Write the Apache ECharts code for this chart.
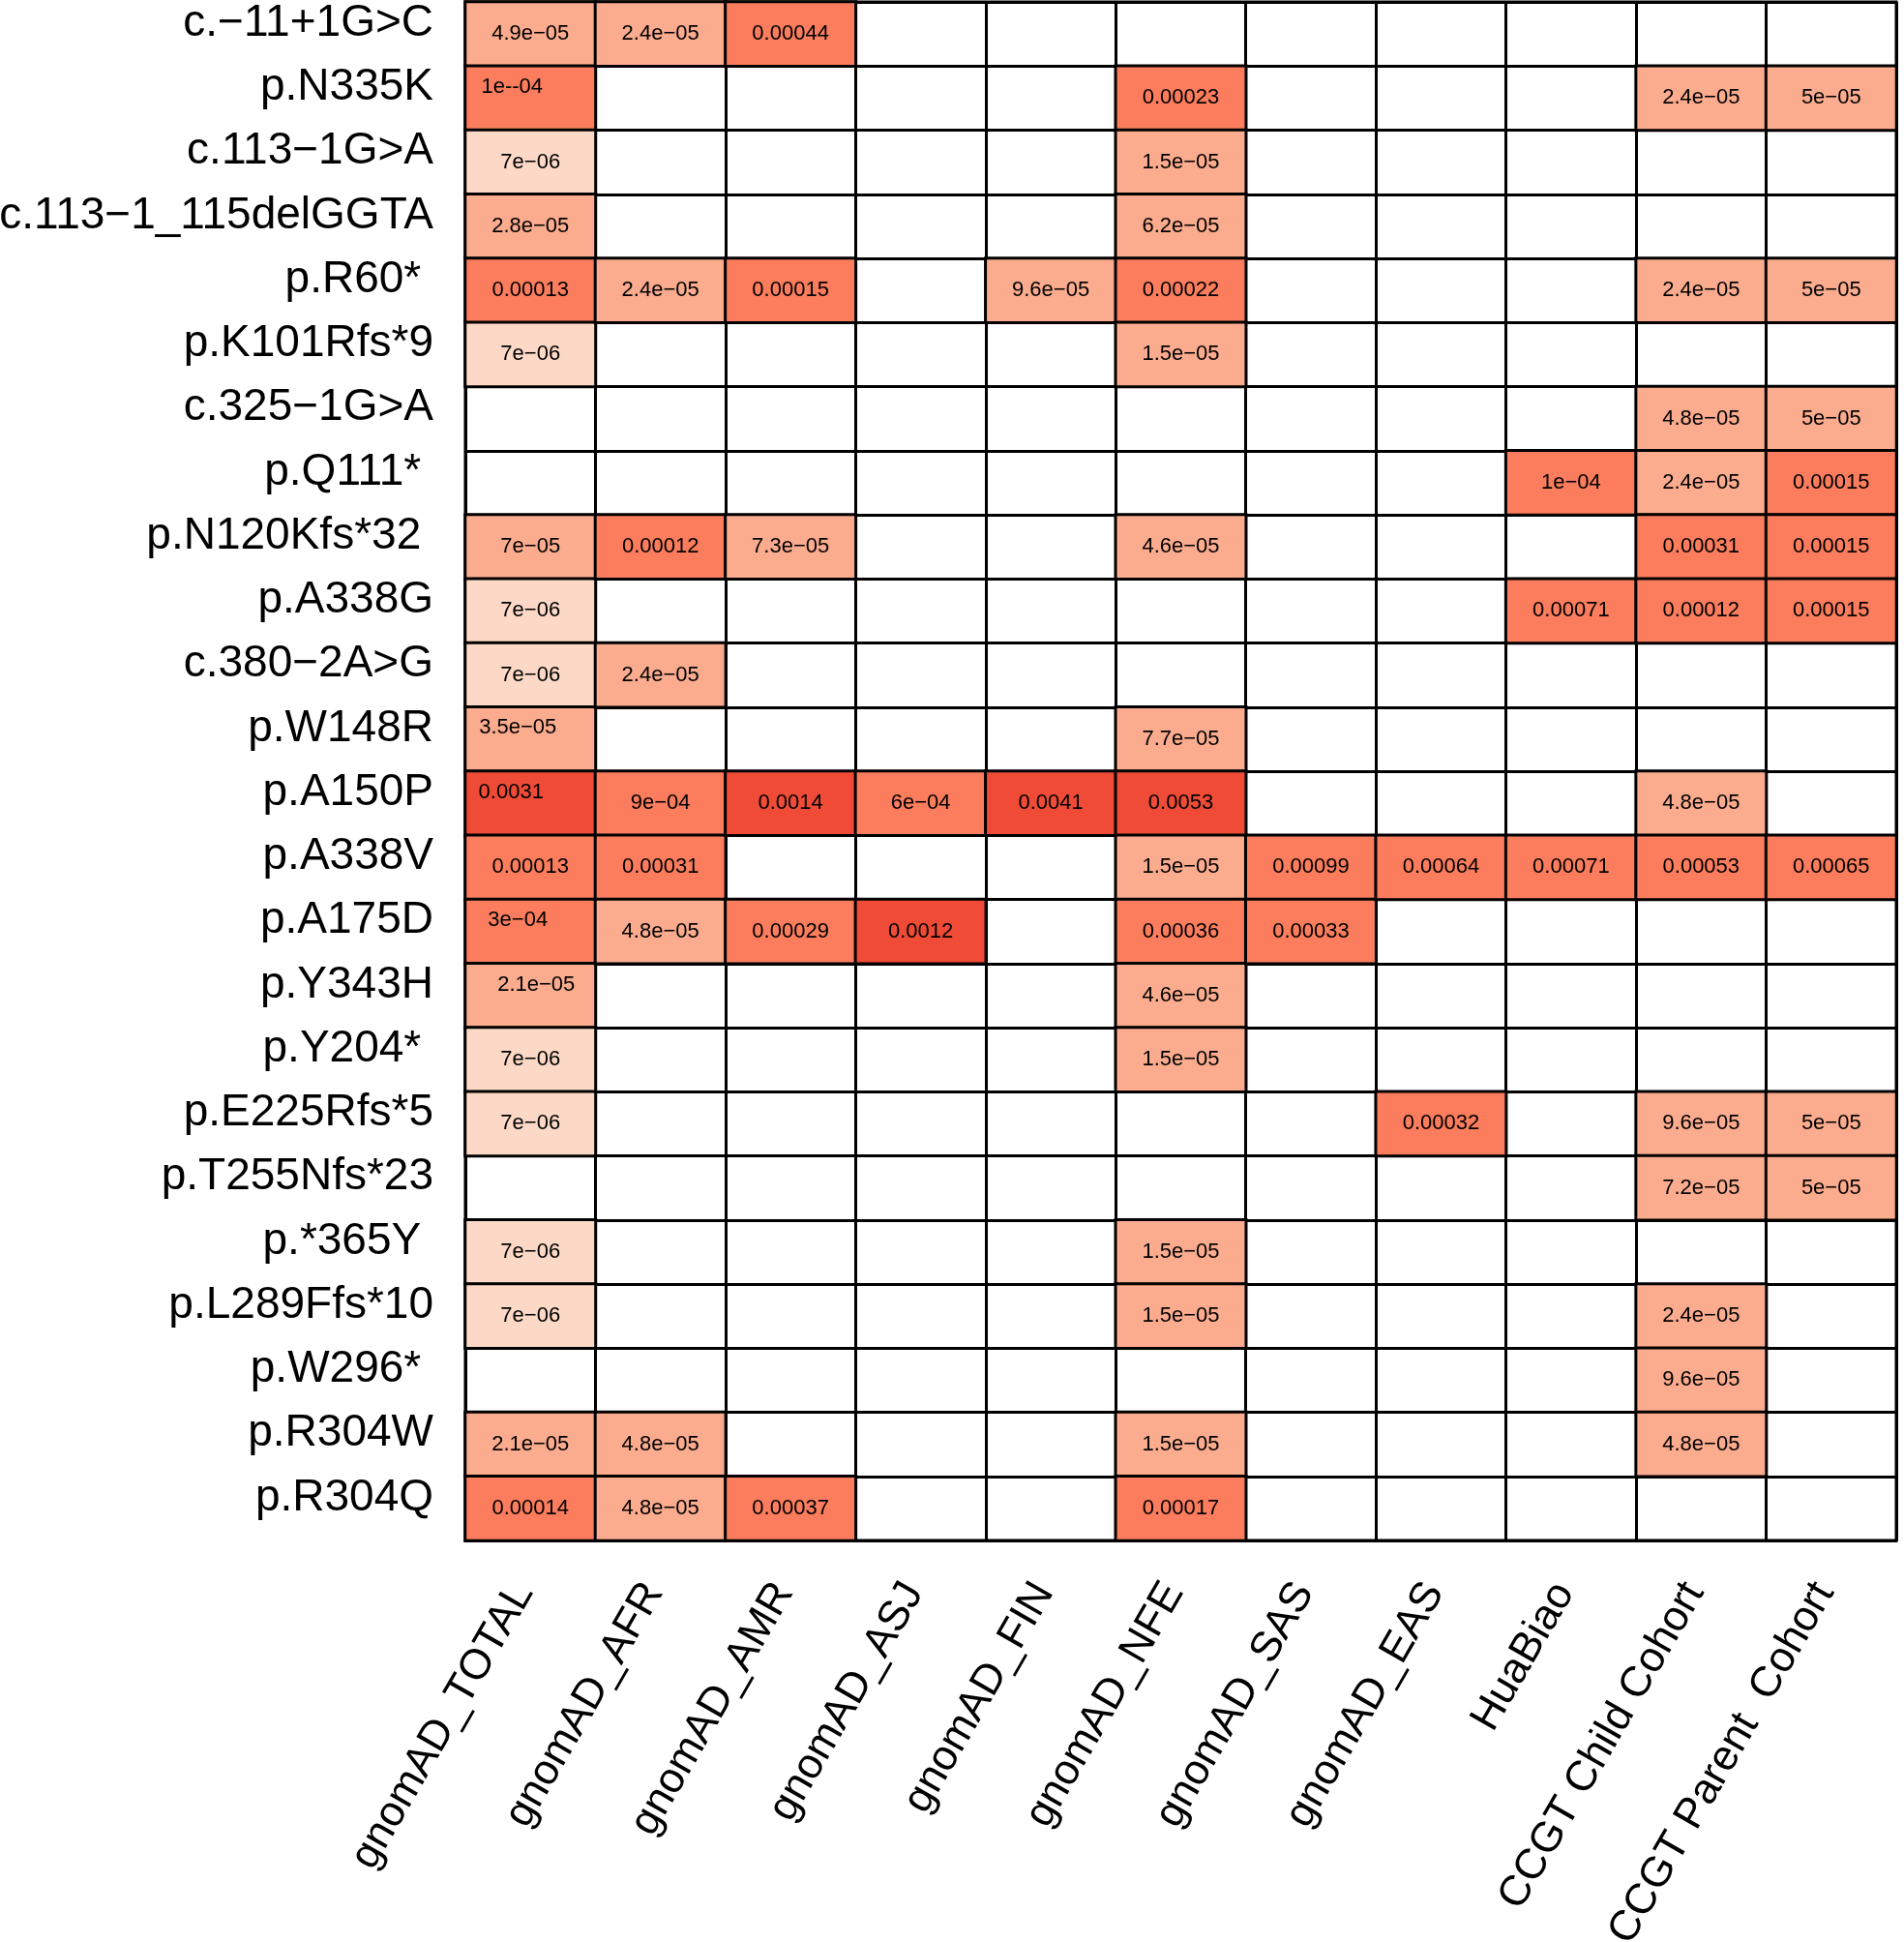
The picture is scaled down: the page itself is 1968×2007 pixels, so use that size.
<!DOCTYPE html>
<html>
<head>
<meta charset="utf-8">
<script src="https://cdn.jsdelivr.net/npm/echarts@6/dist/echarts.min.js"></script>
<style>
html,body{margin:0;padding:0;background:#fff;}
#chart{width:1968px;height:2007px;}
</style>
</head>
<body>
<div id="chart"></div>
<script>
const N = null;
const cohorts = ['gnomAD_TOTAL','gnomAD_AFR','gnomAD_AMR','gnomAD_ASJ','gnomAD_FIN','gnomAD_NFE','gnomAD_SAS','gnomAD_EAS','HuaBiao','CCGT Child Cohort','CCGT Parent  Cohort'];
const variants = ['c.−11+1G>C','p.N335K','c.113−1G>A','c.113−1_115delGGTA','p.R60* ','p.K101Rfs*9','c.325−1G>A','p.Q111* ','p.N120Kfs*32 ','p.A338G','c.380−2A>G','p.W148R','p.A150P','p.A338V','p.A175D','p.Y343H','p.Y204* ','p.E225Rfs*5','p.T255Nfs*23','p.*365Y ','p.L289Ffs*10','p.W296* ','p.R304W','p.R304Q'];

// allele frequencies per cohort (one entry per variant, top to bottom), as printed
const gnomadTotal = ['4.9e−05','1e--04','7e−06','2.8e−05','0.00013','7e−06',N,N,'7e−05','7e−06','7e−06','3.5e−05','0.0031','0.00013','3e−04','2.1e−05','7e−06','7e−06',N,'7e−06','7e−06',N,'2.1e−05','0.00014'];
const gnomadAfr   = ['2.4e−05',N,N,N,'2.4e−05',N,N,N,'0.00012',N,'2.4e−05',N,'9e−04','0.00031','4.8e−05',N,N,N,N,N,N,N,'4.8e−05','4.8e−05'];
const gnomadAmr   = ['0.00044',N,N,N,'0.00015',N,N,N,'7.3e−05',N,N,N,'0.0014',N,'0.00029',N,N,N,N,N,N,N,N,'0.00037'];
const gnomadAsj   = [N,N,N,N,N,N,N,N,N,N,N,N,'6e−04',N,'0.0012',N,N,N,N,N,N,N,N,N];
const gnomadFin   = [N,N,N,N,'9.6e−05',N,N,N,N,N,N,N,'0.0041',N,N,N,N,N,N,N,N,N,N,N];
const gnomadNfe   = [N,'0.00023','1.5e−05','6.2e−05','0.00022','1.5e−05',N,N,'4.6e−05',N,N,'7.7e−05','0.0053','1.5e−05','0.00036','4.6e−05','1.5e−05',N,N,'1.5e−05','1.5e−05',N,'1.5e−05','0.00017'];
const gnomadSas   = [N,N,N,N,N,N,N,N,N,N,N,N,N,'0.00099','0.00033',N,N,N,N,N,N,N,N,N];
const gnomadEas   = [N,N,N,N,N,N,N,N,N,N,N,N,N,'0.00064',N,N,N,'0.00032',N,N,N,N,N,N];
const huaBiao     = [N,N,N,N,N,N,N,'1e−04',N,'0.00071',N,N,N,'0.00071',N,N,N,N,N,N,N,N,N,N];
const ccgtChild   = [N,'2.4e−05',N,N,'2.4e−05',N,'4.8e−05','2.4e−05','0.00031','0.00012',N,N,'4.8e−05','0.00053',N,N,N,'9.6e−05','7.2e−05',N,'2.4e−05','9.6e−05','4.8e−05',N];
const ccgtParent  = [N,'5e−05',N,N,'5e−05',N,'5e−05','0.00015','0.00015','0.00015',N,N,N,'0.00065',N,N,N,'5e−05','5e−05',N,N,N,N,N];

const columns = [gnomadTotal,gnomadAfr,gnomadAmr,gnomadAsj,gnomadFin,gnomadNfe,gnomadSas,gnomadEas,huaBiao,ccgtChild,ccgtParent];

// label nudges in the reference: [row, col, dx, dy]
const labelNudges = [[1,0,-19,-11],[11,0,-13,-12],[12,0,-20,-11],[14,0,-13,-12],[15,0,6,-11]];

function parseVal(s){ return parseFloat(s.replace(/−/g,'-').replace('--','-')); }

const data = [];
columns.forEach((col, ci) => {
  col.forEach((s, ri) => {
    if (s === null) return;
    const item = { value: [ci, ri, parseVal(s)], text: s };
    const nudge = labelNudges.find(n => n[0] === ri && n[1] === ci);
    if (nudge) item.label = { offset: [nudge[2], nudge[3]] };
    data.push(item);
  });
});

const FONT = "'Liberation Sans', Arial, Helvetica, sans-serif";
const chart = echarts.init(document.getElementById('chart'), null, {renderer:'canvas'});
chart.setOption({
  backgroundColor: '#ffffff',
  animation: false,
  grid: { left: 481, top: 2, width: 1479, height: 1590, outerBoundsMode: 'none', containLabel: false, show: true, borderColor: '#000', borderWidth: 3, backgroundColor: '#fff' },
  xAxis: {
    type: 'category', data: cohorts, position: 'bottom',
    axisLine: { show: true, lineStyle: { color: '#000', width: 3 } },
    axisTick: { show: false },
    splitLine: { show: true, interval: 0, lineStyle: { color: '#000', width: 3 } },
    axisLabel: { interval: 0, rotate: 60, margin: 35, align: 'right', verticalAlign: 'middle', padding: [0, 14, 0, 0], fontSize: 44, color: '#000', fontFamily: FONT }
  },
  yAxis: {
    type: 'category', data: variants, inverse: true,
    axisLine: { show: true, lineStyle: { color: '#000', width: 3 } },
    axisTick: { show: false },
    splitLine: { show: true, interval: 0, lineStyle: { color: '#000', width: 3 } },
    axisLabel: { interval: 0, margin: 33, fontSize: 46, color: '#000', fontFamily: FONT, verticalAlign: 'bottom', lineHeight: 22 }
  },
  visualMap: {
    type: 'piecewise', show: false, dimension: 2,
    pieces: [
      { lt: 1e-5, color: '#FCD9C6' },
      { gte: 1e-5, lt: 1e-4, color: '#FBAB8E' },
      { gte: 1e-4, lt: 1e-3, color: '#FB7D5D' },
      { gte: 1e-3, color: '#EF4B37' }
    ]
  },
  series: [{
    type: 'heatmap',
    data: data,
    itemStyle: { borderColor: '#000', borderWidth: 3 },
    label: {
      show: true, fontSize: 22, color: '#000', fontFamily: FONT,
      formatter: p => p.data.text
    },
    emphasis: { disabled: true }
  }]
});
</script>
</body>
</html>
